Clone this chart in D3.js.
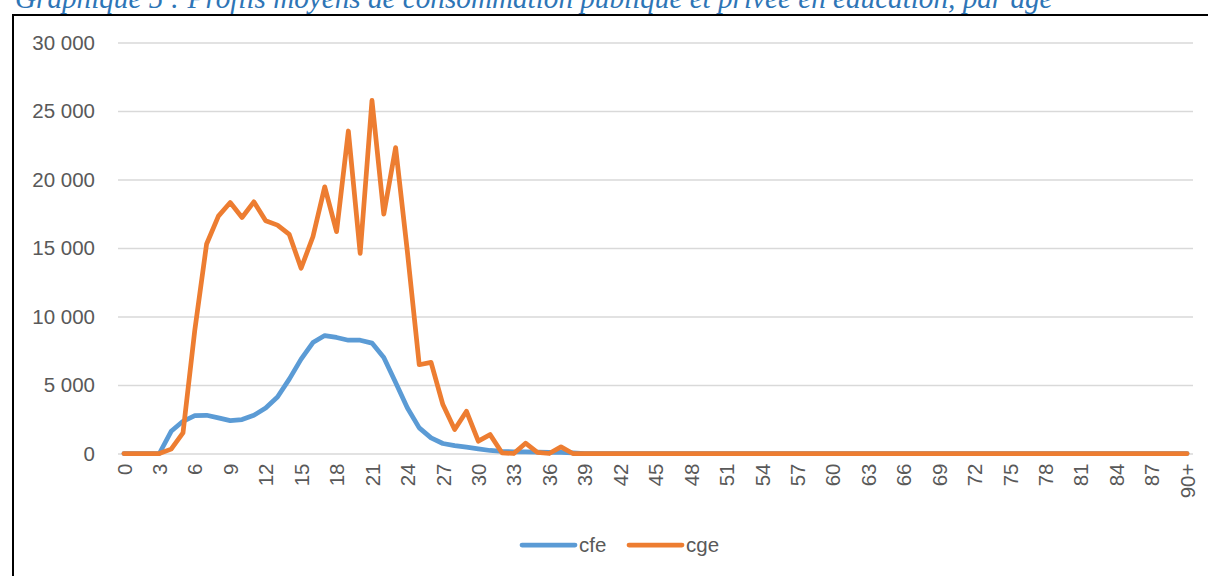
<!DOCTYPE html>
<html>
<head>
<meta charset="utf-8">
<script src="https://cdn.jsdelivr.net/npm/d3@7"></script>
<style>
  body { margin: 0; background: #fff; }
  svg { display: block; }
  .axis text { font-family: "Liberation Sans", sans-serif; font-size: 20.5px; fill: #595959; }
  .axis path, .axis line { stroke: none; }
  .grid line { stroke: #d9d9d9; stroke-width: 1.5px; }
  .grid path { stroke: none; }
  .legend text { font-family: "Liberation Sans", sans-serif; font-size: 20.5px; fill: #595959; }
</style>
</head>
<body>
<div id="chart"></div>
<script>
// Data: ages 0..89 and 90+
var ages = d3.range(0, 90).map(String).concat(["90+"]);

var cfe = [
  0, 0, 0, 0, 1620, 2350, 2760, 2790, 2600, 2400,
  2480, 2790, 3320, 4120, 5430, 6890, 8100, 8610, 8470, 8270,
  8270, 8060, 7010, 5190, 3320, 1870, 1140, 730, 580, 460,
  340, 220, 150, 120, 110, 100, 90, 80, 40, 0
];

var cge = [
  0, 0, 0, 0, 320, 1500, 9000, 15290, 17330, 18320,
  17230, 18370, 16990, 16670, 15990, 13520, 15820, 19460, 16190, 23540,
  14610, 25770, 17470, 22330, 14700, 6480, 6650, 3570, 1750, 3080,
  900, 1380, 50, 0, 750, 80, 0, 480, 0, 0
];

// pad the tail with zeros up to 90+
while (cfe.length < ages.length) cfe.push(0);
while (cge.length < ages.length) cge.push(0);

var yTicks = [0, 5000, 10000, 15000, 20000, 25000, 30000];

var series = [
  { name: "cfe", values: cfe, color: "#5b9bd5" },
  { name: "cge", values: cge, color: "#ed7d31" },
];

var titleText = "Graphique 5 : Profils moyens de consommation publique et privée en éducation, par âge";

var width = 1208;
var height = 576;
var plot = { left: 118, right: 1193, top: 42.5, bottom: 453.5 };

var svg = d3
  .select("#chart")
  .append("svg")
  .attr("width", width)
  .attr("height", height);

svg.append("rect").attr("width", width).attr("height", height).attr("fill", "#fff");

// Title, cut by the top of the page as in the source
var title = svg
  .append("text")
  .attr("x", 15)
  .attr("y", 8)
  .style("font-family", '"Liberation Serif", serif')
  .style("font-style", "italic")
  .style("font-size", "24px")
  .style("fill", "#2e75b6")
  .text(titleText);
var tLen = title.node().getComputedTextLength();
title.style("font-size", (24 * 1038) / tLen + "px");

// Frame
svg
  .append("rect")
  .attr("x", 13)
  .attr("y", 15)
  .attr("width", 1400)
  .attr("height", 800)
  .attr("fill", "none")
  .attr("stroke", "#000")
  .attr("stroke-width", 2);

// Scales
var xScale = d3.scalePoint().domain(ages).range([plot.left, plot.right]).padding(0.5);

var yScale = d3.scaleLinear().domain([0, 30000]).range([plot.bottom, plot.top]);

var fmt = (d) => d3.format(",")(d).replace(/,/g, " ");

// Grid
svg
  .append("g")
  .attr("class", "grid")
  .attr("transform", `translate(${plot.left},0)`)
  .call(
    d3
      .axisLeft(yScale)
      .tickValues(yTicks)
      .tickSize(-(plot.right - plot.left))
      .tickFormat("")
  );

// Y axis labels
svg
  .append("g")
  .attr("class", "y axis")
  .attr("transform", `translate(${plot.left},0)`)
  .call(d3.axisLeft(yScale).tickValues(yTicks).tickSize(0).tickPadding(23).tickFormat(fmt));

// X axis labels, every third age
var xAxis = svg
  .append("g")
  .attr("class", "x axis")
  .attr("transform", `translate(0,${plot.bottom})`)
  .call(
    d3
      .axisBottom(xScale)
      .tickValues(ages.filter((d, i) => i % 3 === 0))
      .tickSize(0)
  );

xAxis
  .selectAll("text")
  .attr("transform", "rotate(-90)")
  .attr("x", -10)
  .attr("y", 0)
  .attr("dy", "0.35em")
  .style("text-anchor", "end");

// Lines
var line = d3
  .line()
  .x((d, i) => xScale(ages[i]))
  .y((d) => yScale(d));

svg
  .append("g")
  .selectAll("path")
  .data(series)
  .enter()
  .append("path")
  .attr("d", (d) => line(d.values))
  .attr("fill", "none")
  .attr("stroke", (d) => d.color)
  .attr("stroke-width", 4.75)
  .attr("stroke-linejoin", "round")
  .attr("stroke-linecap", "round");

// Legend
var legend = svg
  .append("g")
  .attr("class", "legend")
  .selectAll("g")
  .data(series)
  .enter()
  .append("g")
  .attr("transform", (d, i) => `translate(${522 + i * 107},545)`);

legend
  .append("line")
  .attr("x1", 0)
  .attr("x2", 53)
  .attr("stroke", (d) => d.color)
  .attr("stroke-width", 4.75)
  .attr("stroke-linecap", "round");

legend
  .append("text")
  .attr("x", 57)
  .attr("dy", "0.35em")
  .text((d) => d.name);
</script>
</body>
</html>
